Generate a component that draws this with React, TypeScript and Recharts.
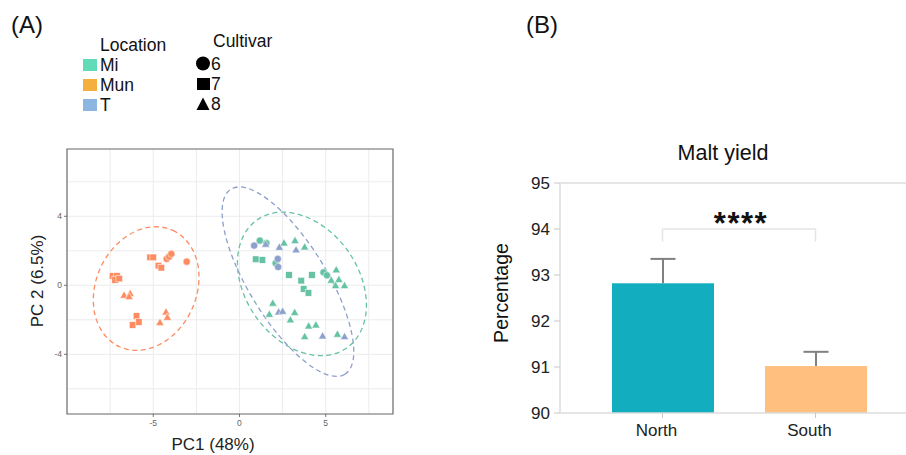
import React from 'react';
import {
  ScatterChart, Scatter, XAxis, YAxis, CartesianGrid, ReferenceArea,
  BarChart, Bar, ReferenceLine,
} from 'recharts';

const FONT = '"Liberation Sans", Arial, Helvetica, sans-serif';

type Pt = { x: number; y: number; cultivar: number };

// PCA scores
const miPoints: Pt[] = [
  { x: 1.18, y: 2.59, cultivar: 6 }, { x: 1.56, y: 2.45, cultivar: 6 }, { x: 2.1, y: 1.28, cultivar: 6 },
  { x: 4.87, y: 0.75, cultivar: 6 }, { x: 5.07, y: 0.58, cultivar: 6 },
  { x: 0.94, y: 1.51, cultivar: 7 }, { x: 1.33, y: 1.47, cultivar: 7 }, { x: 2.87, y: 0.6, cultivar: 7 },
  { x: 3.58, y: 0.27, cultivar: 7 }, { x: 4.2, y: 0.6, cultivar: 7 }, { x: 3.72, y: -0.21, cultivar: 7 },
  { x: 4.0, y: -0.44, cultivar: 7 },
  { x: 2.58, y: 2.45, cultivar: 8 }, { x: 3.22, y: 2.59, cultivar: 8 }, { x: 3.78, y: 2.22, cultivar: 8 },
  { x: 5.61, y: 0.89, cultivar: 8 }, { x: 5.32, y: 0.29, cultivar: 8 }, { x: 5.76, y: 0.33, cultivar: 8 },
  { x: 5.57, y: -0.02, cultivar: 8 }, { x: 6.09, y: -0.02, cultivar: 8 },
  { x: 1.93, y: -1.04, cultivar: 8 }, { x: 1.73, y: -1.68, cultivar: 8 }, { x: 2.95, y: -2.01, cultivar: 8 },
  { x: 3.2, y: -1.58, cultivar: 8 }, { x: 4.01, y: -2.36, cultivar: 8 }, { x: 4.43, y: -2.3, cultivar: 8 },
  { x: 3.78, y: -2.98, cultivar: 8 }, { x: 5.68, y: -2.84, cultivar: 8 },
];

const munPoints: Pt[] = [
  { x: -4.22, y: 1.53, cultivar: 6 }, { x: -4.08, y: 1.66, cultivar: 6 }, { x: -3.95, y: 1.82, cultivar: 6 },
  { x: -3.06, y: 1.37, cultivar: 6 },
  { x: -5.18, y: 1.62, cultivar: 7 }, { x: -5.0, y: 1.62, cultivar: 7 }, { x: -4.7, y: 1.14, cultivar: 7 },
  { x: -4.53, y: 1.02, cultivar: 7 }, { x: -7.36, y: 0.54, cultivar: 7 }, { x: -7.11, y: 0.54, cultivar: 7 },
  { x: -7.21, y: 0.31, cultivar: 7 }, { x: -6.97, y: 0.39, cultivar: 7 }, { x: -5.97, y: -1.78, cultivar: 7 },
  { x: -5.84, y: -2.13, cultivar: 7 }, { x: -6.2, y: -2.3, cultivar: 7 },
  { x: -6.69, y: -0.58, cultivar: 8 }, { x: -6.34, y: -0.48, cultivar: 8 }, { x: -6.4, y: -0.66, cultivar: 8 },
  { x: -4.26, y: -1.55, cultivar: 8 }, { x: -4.18, y: -1.86, cultivar: 8 }, { x: -4.61, y: -2.16, cultivar: 8 },
];

const tPoints: Pt[] = [
  { x: 0.85, y: 2.3, cultivar: 6 }, { x: 2.22, y: 1.53, cultivar: 6 }, { x: 2.24, y: 1.06, cultivar: 6 },
  { x: 1.52, y: 2.38, cultivar: 8 }, { x: 2.31, y: 2.2, cultivar: 8 }, { x: 3.28, y: 2.05, cultivar: 8 },
  { x: 2.27, y: -1.55, cultivar: 8 }, { x: 2.5, y: -1.51, cultivar: 8 }, { x: 4.82, y: -2.94, cultivar: 8 },
  { x: 6.09, y: -2.98, cultivar: 8 },
];

// 95% ellipses: centre, semi-axes, rotation (deg, counter-clockwise)
const ellipseCentres = { Mi: [3.62, 0.08], Mun: [-5.41, -0.19], T: [2.81, 0.21] };
const ellipseAxes = { Mi: [4.53, 3.28], Mun: [3.71, 2.91], T: [6.3, 2.25] };
const ellipseAngles = { Mi: -55, Mun: 65.4, T: -58.4 };

const pcaXDomain = [-10, 8.9];
const pcaYDomain = [-7.46, 7.9];
const pcaXTicks = [-7.5, -5, -2.5, 0, 2.5, 5, 7.5];
const pcaYTicks = [-6, -4, -2, 0, 2, 4, 6];
const pcaXLabels = [-5, 0, 5];
const pcaYLabels = [-4, 0, 4];

// panel (B)
const regions = ['North', 'South'];
const maltYield = [92.82, 91.02];
const maltSd = [0.53, 0.31];
const yieldTicks = [90, 91, 92, 93, 94, 95];

const locColors = { Mi: '#66c2a5', Mun: '#fc8d62', T: '#8da0cb' };
const legendColors = { Mi: '#63dbb8', Mun: '#f4b03e', T: '#8cb5e0' };
const barColors = ['#12aebf', '#ffbf7f'];

const barData = regions.map((r, i) => ({ region: r, value: maltYield[i], sd: maltSd[i] }));

const marker = (color: string) => (props: any) => {
  const { cx, cy, payload } = props;
  if (payload.cultivar === 6) {
    return <circle cx={cx} cy={cy} r={3.6} fill={color} stroke="#fff" strokeWidth={0.5} />;
  }
  if (payload.cultivar === 7) {
    return <rect x={cx - 3.3} y={cy - 3.3} width={6.6} height={6.6} fill={color} stroke="#fff" strokeWidth={0.5} />;
  }
  return (
    <path d={`M${cx},${cy - 4.3}L${cx + 4.1},${cy + 2.9}L${cx - 4.1},${cy + 2.9}Z`} fill={color} stroke="#fff" strokeWidth={0.5} />
  );
};

const ellipseShape = (angle: number) => (props: any) => {
  const { x, y, width, height, stroke } = props;
  const cx = x + width / 2;
  const cy = y + height / 2;
  return (
    <ellipse
      cx={cx} cy={cy} rx={Math.abs(width) / 2} ry={Math.abs(height) / 2}
      transform={`rotate(${-angle} ${cx} ${cy})`}
      fill="none" stroke={stroke} strokeWidth={1.3} strokeDasharray="5 3.5"
    />
  );
};

const PcaXTick = (props: any) => {
  const { x, y, payload } = props;
  if (!pcaXLabels.includes(payload.value)) return <g />;
  return (
    <g>
      <line x1={x} x2={x} y1={y - 5} y2={y - 2} stroke="#555" strokeWidth={0.8} />
      <text x={x} y={y + 7} textAnchor="middle" fontSize={8.5} fill="#666" fontFamily={FONT}>{payload.value}</text>
    </g>
  );
};

const PcaYTick = (props: any) => {
  const { x, y, payload } = props;
  if (!pcaYLabels.includes(payload.value)) return <g />;
  return (
    <g>
      <line x1={x + 2} x2={x + 5} y1={y} y2={y} stroke="#555" strokeWidth={0.8} />
      <text x={x} y={y + 3} textAnchor="end" fontSize={8.5} fill="#666" fontFamily={FONT}>{payload.value}</text>
    </g>
  );
};

const YieldBar = (props: any) => {
  const { x, y, width, height, index, payload } = props;
  const perUnit = height / (payload.value - yieldTicks[0]);
  const top = y - payload.sd * perUnit;
  const mid = x + width / 2;
  return (
    <g>
      <rect x={x} y={y} width={width} height={height} fill={barColors[index]} />
      <line x1={mid} x2={mid} y1={y} y2={top} stroke="#808080" strokeWidth={2} />
      <line x1={mid - 12.5} x2={mid + 12.5} y1={top} y2={top} stroke="#808080" strokeWidth={2} />
    </g>
  );
};

const PcaPanel = () => (
  <ScatterChart width={400} height={455} margin={{ top: 149, right: 7, bottom: 0, left: 0 }}>
    <CartesianGrid stroke="#ececec" strokeWidth={1} />
    <XAxis
      type="number" dataKey="x" domain={pcaXDomain} allowDataOverflow ticks={pcaXTicks} interval={0}
      height={41} axisLine={false} tickLine={false} tickSize={3} tickMargin={2} tick={<PcaXTick />}
    />
    <YAxis
      type="number" dataKey="y" domain={pcaYDomain} allowDataOverflow ticks={pcaYTicks} interval={0}
      width={67} axisLine={false} tickLine={false} tickSize={3} tickMargin={2} tick={<PcaYTick />}
    />
    <ReferenceArea
      x1={pcaXDomain[0]} x2={pcaXDomain[1]} y1={pcaYDomain[0]} y2={pcaYDomain[1]}
      fill="none" stroke="#6e6e6e" strokeWidth={1.2} fillOpacity={0}
    />
    <Scatter data={munPoints} shape={marker(locColors.Mun)} isAnimationActive={false} />
    <Scatter data={miPoints} shape={marker(locColors.Mi)} isAnimationActive={false} />
    <Scatter data={tPoints} shape={marker(locColors.T)} isAnimationActive={false} />
    {(['Mun', 'Mi', 'T'] as const).map((k) => (
      <ReferenceArea
        key={k}
        x1={ellipseCentres[k][0] - ellipseAxes[k][0]} x2={ellipseCentres[k][0] + ellipseAxes[k][0]}
        y1={ellipseCentres[k][1] - ellipseAxes[k][1]} y2={ellipseCentres[k][1] + ellipseAxes[k][1]}
        ifOverflow="visible" stroke={locColors[k]} shape={ellipseShape(ellipseAngles[k])}
      />
    ))}
  </ScatterChart>
);

const YieldPanel = () => (
  <BarChart width={450} height={325} data={barData} margin={{ top: 53, right: 12, bottom: 0, left: 0 }}>
    <XAxis
      dataKey="region" padding={{ left: 26, right: 26 }} height={42}
      axisLine={{ stroke: '#dcdcdc', strokeWidth: 1.5 }} tickLine={{ stroke: '#c8c8c8' }} tickSize={5} tickMargin={6}
      tick={{ fontSize: 17, fill: '#222', fontFamily: FONT, dx: -6 }}
    />
    <YAxis
      type="number" domain={[yieldTicks[0], yieldTicks[yieldTicks.length - 1]]} ticks={yieldTicks} width={80}
      axisLine={{ stroke: '#dcdcdc', strokeWidth: 1.5 }} tickLine={{ stroke: '#c8c8c8' }} tickSize={6} tickMargin={4}
      tick={{ fontSize: 17, fill: '#222', fontFamily: FONT }}
    />
    <ReferenceLine y={95} stroke="#dcdcdc" strokeWidth={1.5} />
    <Bar dataKey="value" barSize={102} shape={<YieldBar />} isAnimationActive={false} />
    <ReferenceLine
      segment={[{ x: 'North', y: 94 }, { x: 'South', y: 94 }]} stroke="#e4e4e4" strokeWidth={1.5}
      label={(p: any) => (
        <text
          x={p.viewBox.x + p.viewBox.width / 2 + 2} y={p.viewBox.y + 5} textAnchor="middle"
          fontSize={31} fontWeight="bold" letterSpacing={1.5} fill="#111" fontFamily={FONT}
        >
          ****
        </text>
      )}
    />
    <ReferenceLine segment={[{ x: 'North', y: 94 }, { x: 'North', y: 93.73 }]} stroke="#e4e4e4" strokeWidth={1.5} />
    <ReferenceLine segment={[{ x: 'South', y: 94 }, { x: 'South', y: 93.73 }]} stroke="#e4e4e4" strokeWidth={1.5} />
  </BarChart>
);

const Overlay = () => (
  <svg width={906} height={455} style={{ position: 'absolute', left: 0, top: 0, pointerEvents: 'none' }} fontFamily={FONT}>
    <text x={11} y={33} fontSize={24} fill="#111">(A)</text>
    <text x={526} y={33} fontSize={24} fill="#111">(B)</text>

    <text x={100} y={51} fontSize={17.5} fill="#111">Location</text>
    <rect x={83} y={59} width={14} height={12} fill={legendColors.Mi} />
    <text x={100} y={71} fontSize={17.5} fill="#111">Mi</text>
    <rect x={83} y={79} width={14} height={12} fill={legendColors.Mun} />
    <text x={100} y={91} fontSize={17.5} fill="#111">Mun</text>
    <rect x={83} y={99} width={14} height={12} fill={legendColors.T} />
    <text x={100} y={111} fontSize={17.5} fill="#111">T</text>

    <text x={213} y={46.5} fontSize={17.5} fill="#111">Cultivar</text>
    <circle cx={203} cy={63.5} r={7} fill="#000" />
    <text x={211} y={69.5} fontSize={17.5} fill="#111">6</text>
    <rect x={197} y={78} width={13} height={12} fill="#000" />
    <text x={211} y={90} fontSize={17.5} fill="#111">7</text>
    <path d="M196.5,110 L209.5,110 L203,97.5 Z" fill="#000" />
    <text x={211} y={110} fontSize={17.5} fill="#111">8</text>

    <text x={213} y={450} fontSize={17} textAnchor="middle" fill="#222">PC1 (48%)</text>
    <text transform="translate(43 281) rotate(-90)" fontSize={17} textAnchor="middle" fill="#222">PC 2 (6.5%)</text>

    <text x={723} y={160} fontSize={21.5} textAnchor="middle" fill="#111">Malt yield</text>
    <text transform="translate(507.5 293) rotate(-90)" fontSize={19.5} textAnchor="middle" fill="#111">Percentage</text>
  </svg>
);

export default function App() {
  return (
    <div style={{ position: 'absolute', left: 0, top: 0, width: 906, height: 455, overflow: 'hidden', background: '#fff', fontFamily: FONT }}>
      <div style={{ position: 'absolute', left: 0, top: 0 }}>
        <PcaPanel />
      </div>
      <div style={{ position: 'absolute', left: 480, top: 130 }}>
        <YieldPanel />
      </div>
      <Overlay />
    </div>
  );
}
